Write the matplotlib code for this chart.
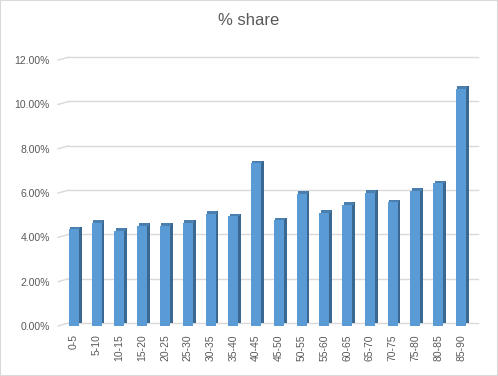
import numpy as np
import matplotlib.pyplot as plt
from matplotlib.patches import Rectangle
import matplotlib.transforms as mtransforms

categories = ["0-5", "5-10", "10-15", "15-20", "20-25", "25-30", "30-35", "35-40", "40-45",
              "45-50", "50-55", "55-60", "60-65", "65-70", "70-75", "75-80", "80-85", "85-90"]
share = [4.37, 4.67, 4.30, 4.52, 4.52, 4.65, 5.06, 4.95, 7.35,
         4.77, 5.97, 5.10, 5.47, 6.02, 5.58, 6.09, 6.44, 10.70]
yticks = [0, 2, 4, 6, 8, 10, 12]

plt.rcParams['font.family'] = ['Liberation Sans', 'DejaVu Sans']

fig = plt.figure(figsize=(4.98, 3.76), dpi=100)
fig.patches.append(Rectangle((0, 0), 1, 1, transform=fig.transFigure, fill=False,
                             edgecolor="#d9d9d9", linewidth=1.5))
ax = fig.add_axes([0.1165, 0.133, 0.8435, 0.707])

x = np.arange(len(share))
vals = np.array(share) / 100
w = 0.44
side = 0.12

# grid lines (back wall a bit above the front labels)
back = mtransforms.offset_copy(ax.transData, fig=fig, x=0, y=3, units='dots')
for t in yticks:
    ax.plot([-0.25, 17.75], [t / 100, t / 100], color="#d9d9d9", lw=1, transform=back,
            zorder=0, clip_on=False)
    ax.plot([-0.70, -0.25], [t / 100, t / 100 + 0.0013], color="#d9d9d9", lw=1,
            zorder=0, clip_on=False)

# bars: front face, dark side, top cap
ax.bar(x + w / 2 + side / 2, vals, width=side, bottom=0.0012, color="#3a6890", zorder=2)
ax.bar(x, vals, width=w, color="#5b9bd5", zorder=3)
ax.bar(x + side / 2, np.full(len(vals), 0.0012), width=w, bottom=vals, color="#4a7fb0",
       zorder=2, clip_on=False)

ax.set_xlim(-0.70, 17.75)
ax.set_ylim(0, 0.12)
ax.set_yticks([t / 100 for t in yticks])
ax.set_yticklabels(["%.2f%%" % t for t in yticks])
ax.set_xticks(x)
ax.set_xticklabels(categories, rotation=90)
ax.tick_params(length=0, labelsize=7.5, colors="#595959", pad=6)
for s in ax.spines.values():
    s.set_visible(False)

fig.text(0.5, 0.945, "% share", ha="center", va="center", fontsize=12, color="#595959")

fig.savefig("out.png", dpi=100)
